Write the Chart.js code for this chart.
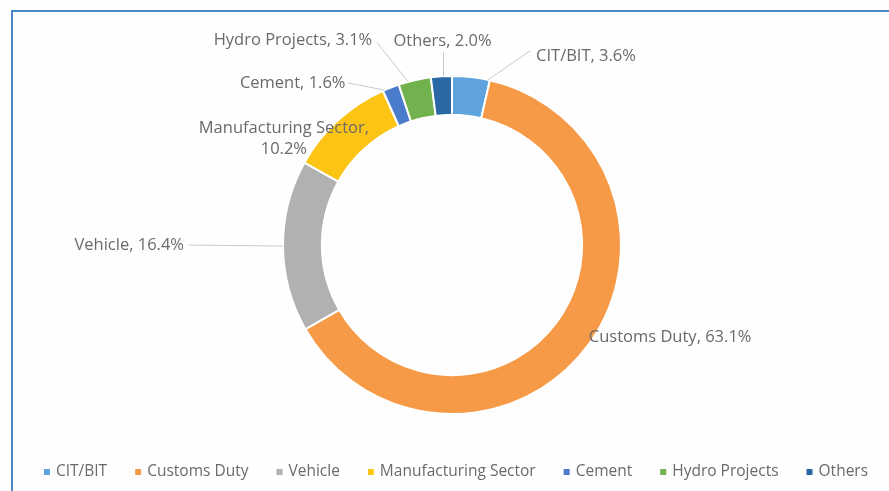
<!DOCTYPE html>
<html>
<head>
<meta charset="utf-8">
<script src="https://cdn.jsdelivr.net/npm/chart.js@4"></script>
<style>
  html, body { margin: 0; padding: 0; background: #fff; }
  #wrap { position: relative; width: 889px; height: 491px; overflow: hidden; background: #fefefe; }
  #frame { position: absolute; left: 11px; top: 10px; right: -5px; bottom: -5px;
           border-top: 2px solid #4a87c6; border-left: 2px solid #4a87c6; }
  #taxChart { position: absolute; left: 0; top: 0; }
</style>
</head>
<body>
<div id="wrap">
  <div id="frame"></div>
  <canvas id="taxChart" width="889" height="491"></canvas>
</div>
<script>
  const categories = ['CIT/BIT', 'Customs Duty', 'Vehicle', 'Manufacturing Sector', 'Cement', 'Hydro Projects', 'Others'];
  const shares = [3.6, 63.1, 16.4, 10.2, 1.6, 3.1, 2.0];
  const sliceColors = ['#5ea3dd', '#f69a47', '#b1b1b1', '#fcc414', '#4a7ccb', '#72b24e', '#2a68a5'];

  // where each data label sits, relative to a point on the slice's outer edge
  const labelPlacement = [
    { at: 0.95, dx: 48, dy: -24, align: 'left', leader: [42, -29] },
    { at: 0.5, dx: 1, dy: -8, align: 'left' },
    { at: 0.5, dx: -99, dy: -1, align: 'right', leader: [-94, -1] },
    { at: 0.5, dx: -54, dy: 8, align: 'center', split: true },
    { at: 0.1, dx: -39, dy: -7, align: 'right', leader: [-36, -7] },
    { at: 0.3, dx: -36, dy: -41, align: 'right', leader: [-31, -39] },
    { at: 0.6, dx: -1, dy: -35, align: 'center', leader: [0, -24] }
  ];

  const textColor = '#6a6a6a';

  const dataLabels = {
    id: 'dataLabels',
    afterDatasetsDraw(chart) {
      const ctx = chart.ctx;
      const arcs = chart.getDatasetMeta(0).data;
      ctx.save();
      ctx.font = '16.5px "Open Sans"';
      ctx.textBaseline = 'middle';
      arcs.forEach((arc, i) => {
        const p = arc.getProps(['x', 'y', 'startAngle', 'endAngle', 'outerRadius'], true);
        const place = labelPlacement[i];
        const a = p.startAngle + (p.endAngle - p.startAngle) * place.at;
        const ax = p.x + Math.cos(a) * p.outerRadius;
        const ay = p.y + Math.sin(a) * p.outerRadius;
        if (place.leader) {
          ctx.strokeStyle = '#c8c8c8';
          ctx.lineWidth = 1;
          ctx.beginPath();
          ctx.moveTo(ax, ay);
          ctx.lineTo(ax + place.leader[0], ay + place.leader[1]);
          ctx.stroke();
        }
        ctx.fillStyle = textColor;
        ctx.textAlign = place.align;
        const pct = shares[i].toFixed(1) + '%';
        if (place.split) {
          ctx.fillText(categories[i] + ',', ax + place.dx, ay + place.dy);
          ctx.fillText(pct, ax + place.dx, ay + place.dy + 21);
        } else {
          ctx.fillText(categories[i] + ', ' + pct, ax + place.dx, ay + place.dy);
        }
      });
      ctx.restore();
    }
  };

  const bottomLegend = {
    id: 'bottomLegend',
    afterDraw(chart) {
      const ctx = chart.ctx;
      const box = 6, gap = 6, spacing = 28, centerX = 456, y = 472;
      ctx.save();
      ctx.font = '15.5px "Open Sans"';
      ctx.textBaseline = 'middle';
      ctx.textAlign = 'left';
      const widths = categories.map(c => box + gap + ctx.measureText(c).width);
      const total = widths.reduce((s, w) => s + w, 0) + spacing * (categories.length - 1);
      let x = centerX - total / 2;
      categories.forEach((c, i) => {
        ctx.fillStyle = sliceColors[i];
        ctx.fillRect(x, y - box / 2, box, box);
        ctx.fillStyle = textColor;
        ctx.fillText(c, x + box + gap, y);
        x += widths[i] + spacing;
      });
      ctx.restore();
    }
  };

  new Chart(document.getElementById('taxChart'), {
    type: 'doughnut',
    data: {
      labels: categories,
      datasets: [{
        data: shares,
        backgroundColor: sliceColors,
        borderColor: '#ffffff',
        borderWidth: 2
      }]
    },
    options: {
      responsive: false,
      animation: false,
      cutout: '77%',
      layout: { padding: { left: 282, right: 267, top: 75, bottom: 76 } },
      plugins: {
        legend: { display: false },
        tooltip: { enabled: false }
      }
    },
    plugins: [dataLabels, bottomLegend]
  });
</script>
</body>
</html>
